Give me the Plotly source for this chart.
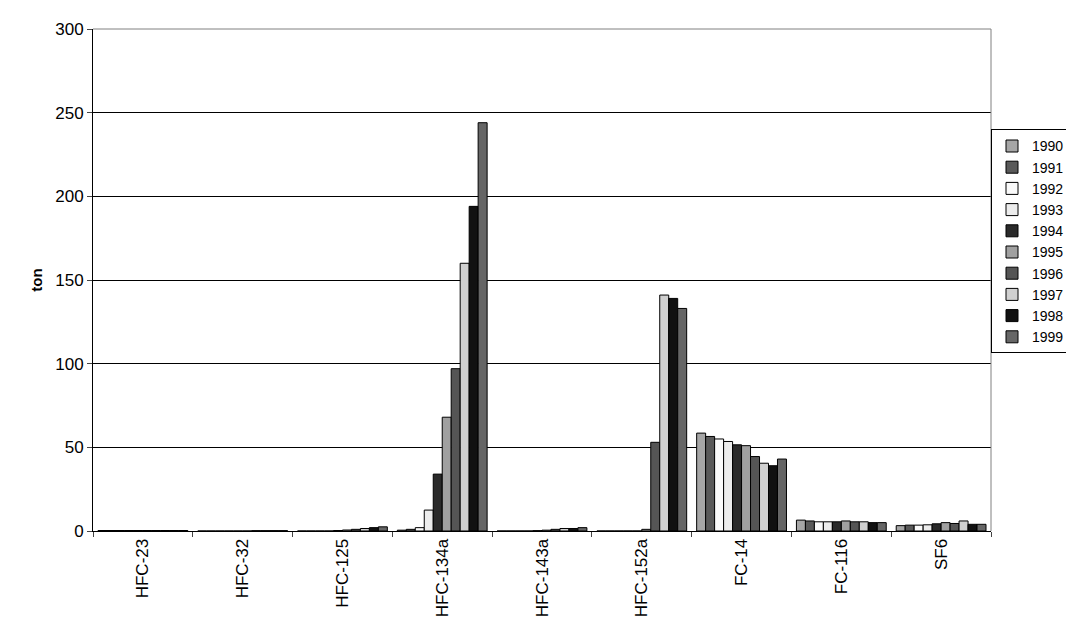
import plotly.graph_objects as go

gases = ["HFC-23", "HFC-32", "HFC-125", "HFC-134a", "HFC-143a", "HFC-152a", "FC-14", "FC-116", "SF6"]
years = ["1990", "1991", "1992", "1993", "1994", "1995", "1996", "1997", "1998", "1999"]

# one list per year, values in gas order
y1990 = [0.3, 0, 0, 0.5, 0, 0, 58.5, 6.5, 3.2]
y1991 = [0.3, 0, 0, 1, 0, 0, 56.5, 6, 3.5]
y1992 = [0.3, 0, 0, 2, 0, 0, 55, 5.5, 3.5]
y1993 = [0.3, 0, 0, 12.5, 0, 0, 53.5, 5.5, 3.7]
y1994 = [0.3, 0, 0.3, 34, 0.2, 0, 51.5, 5.5, 4.3]
y1995 = [0.3, 0, 0.6, 68, 0.5, 1, 51, 6, 5]
y1996 = [0.3, 0.2, 1, 97, 1, 53, 44.5, 5.5, 4.5]
y1997 = [0.3, 0.2, 1.5, 160, 1.5, 141, 40.5, 5.5, 6]
y1998 = [0.3, 0.2, 2, 194, 1.5, 139, 39, 5, 4]
y1999 = [0.3, 0.2, 2.5, 244, 2, 133, 43, 5, 4]
series = [y1990, y1991, y1992, y1993, y1994, y1995, y1996, y1997, y1998, y1999]
colors = ["#a6a6a6", "#595959", "#fafafa", "#ececec", "#2a2a2a",
          "#a0a0a0", "#555555", "#d0d0d0", "#111111", "#666666"]

fig = go.Figure()
for yr, vals, c in zip(years, series, colors):
    fig.add_trace(go.Bar(x=gases, y=vals, name=yr, marker_color=c,
                         marker_line_color="#000000", marker_line_width=1))

fig.update_layout(
    width=1074, height=643,
    barmode="group", bargap=0.1, bargroupgap=0,
    plot_bgcolor="white", paper_bgcolor="white",
    font=dict(family="Liberation Sans, Arial", size=17, color="black"),
    margin=dict(l=85, r=80, t=15, b=120),
    legend=dict(x=1.0, y=0.80, xanchor="left", yanchor="top",
                bordercolor="black", borderwidth=1, tracegroupgap=0,
                itemwidth=30, font=dict(size=14)),
    yaxis=dict(range=[0, 300], dtick=50, showgrid=True, gridcolor="#000000",
               gridwidth=1, showline=True, linecolor="#000000",
               ticks="outside", ticklen=5, zeroline=False,
               title=dict(text="<b>ton</b>", font=dict(size=15), standoff=8)),
    xaxis=dict(showline=True, linecolor="#000000", tickangle=-90,
               ticks="outside", ticklen=5, tickson="boundaries"),
)
fig.add_shape(type="line", xref="paper", yref="paper", x0=1, x1=1, y0=0, y1=1,
              line=dict(color="#808080", width=1))
fig.add_shape(type="line", xref="paper", yref="paper", x0=0, x1=1, y0=1, y1=1,
              line=dict(color="#808080", width=1))

fig.write_html("out.html")
